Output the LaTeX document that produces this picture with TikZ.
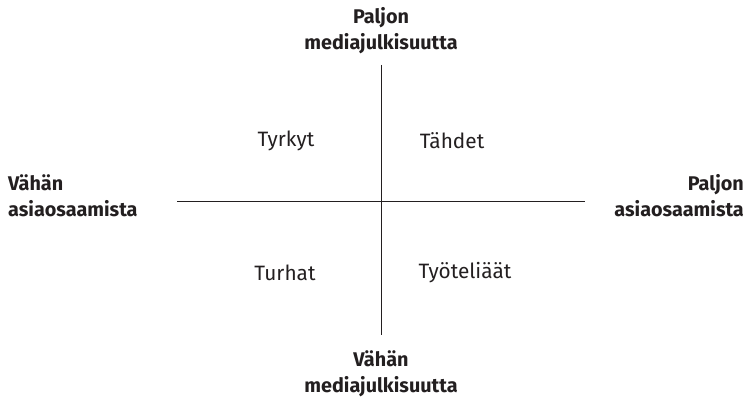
\documentclass[tikz,border=0pt]{standalone}
\usepackage{fontspec}
\setmainfont{Fira Sans}
\definecolor{ink}{HTML}{231F20}
\begin{document}
\begin{tikzpicture}[x=1pt,y=-1pt,
  axislabel/.style={font=\fontsize{19.8}{26}\selectfont\bfseries, text=ink, inner sep=0pt, align=center},
  quad/.style={font=\fontsize{20.8}{22}\selectfont, text=ink, inner sep=0pt},
  axis/.style={draw=ink, line width=0.8pt}]
\useasboundingbox (0,0) rectangle (747,401);
\coordinate (vt) at (381,65);
\coordinate (vb) at (381,335);
\coordinate (hl) at (177,201);
\coordinate (hr) at (585,201);
\draw[axis] (vt) -- (vb);
\draw[axis] (hl) -- (hr);
\node[axislabel] (top) at (381,31) {Paljon\\mediajulkisuutta};
\node[axislabel] (bottom) at (381,374) {Vähän\\mediajulkisuutta};
\node[axislabel, align=left, anchor=west] (left) at (8,196) {Vähän\\asiaosaamista};
\node[axislabel, align=right, anchor=east] (right) at (744,196) {Paljon\\asiaosaamista};
\node[quad] (tyrkyt) at (286,141) {Tyrkyt};
\node[quad] (tahdet) at (452,141) {Tähdet};
\node[quad] (turhat) at (285,273) {Turhat};
\node[quad] (tyot) at (465,273) {Työteliäät};
\end{tikzpicture}
\end{document}
